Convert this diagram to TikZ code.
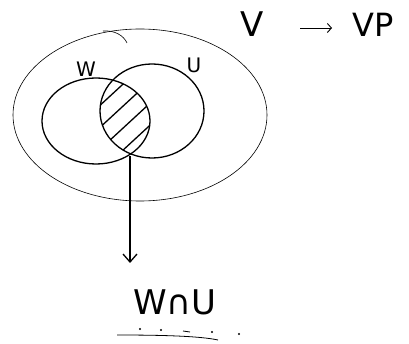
\documentclass[tikz,border=0pt]{standalone}
\usepackage{fontspec}
\setmainfont{DejaVu Sans}
\usetikzlibrary{arrows.meta}
\begin{document}
\begin{tikzpicture}[x=1pt,y=-1pt,
  thin stroke/.style={line width=0.6pt},
  thick stroke/.style={line width=1.3pt},
  lbl/.style={font=\fontsize{20}{22}\selectfont, inner sep=0pt, anchor=base}]
\useasboundingbox (0,0) rectangle (409,344);
% outer set V
\draw[thin stroke] (140,115) ellipse [x radius=127, y radius=86];
\draw[thin stroke] (103,31) .. controls (115,30) and (124,36) .. (127,43);
% W and U
\draw[thick stroke] (96,121) ellipse [x radius=54, y radius=43];
\draw[thick stroke] (152,111) ellipse [x radius=52, y radius=47];
% hatching of intersection
\begin{scope}
  \clip (96,121) ellipse [x radius=54, y radius=43];
  \clip (152,111) ellipse [x radius=52, y radius=47];
  \foreach \o in {0,22,44,66}{
    \draw[thick stroke] (95,110+\o) -- (160,50+\o);
  }
\end{scope}
% labels
\node[lbl] (w) at (86,77) {W};
\node[lbl] (u) at (194,73) {U};
\coordinate (top) at (130,156);
\coordinate (bot) at (130,263);
\draw[thick stroke, -{Straight Barb[length=8pt,width=14pt]}] (top) -- (bot);
\node[lbl, font=\fontsize{34}{36}\selectfont] (wu) at (175,314) {W∩U};
\draw[line width=0.8pt] (117,335) .. controls (160,335) and (200,336) .. (218,340);
\foreach \xx/\yy in {140/329,161/330,212/332,239/334}{\fill (\xx,\yy) circle (1.2pt);}
\draw[line width=0.8pt] (183,331) -- (190,332);
\node[lbl, font=\fontsize{34}{36}\selectfont] (v) at (252,37) {V};
\node[lbl, font=\fontsize{32}{34}\selectfont] (vp) at (373,37) {VP};
\coordinate (a1) at (300,28);
\coordinate (a2) at (332,28);
\draw[line width=0.9pt, -{Straight Barb[length=4pt,width=9pt]}] (a1) -- (a2);
\end{tikzpicture}
\end{document}
